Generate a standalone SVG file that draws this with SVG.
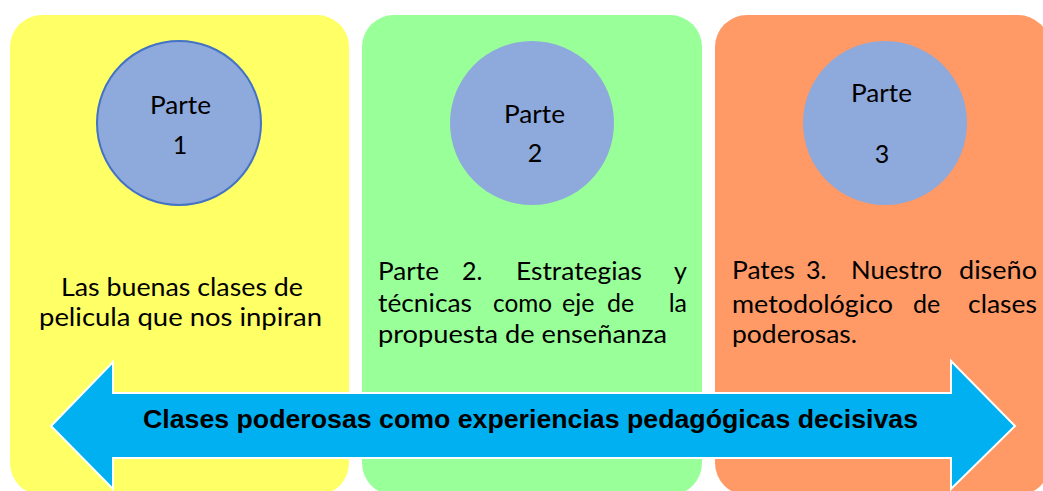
<svg xmlns="http://www.w3.org/2000/svg" width="1043" height="491" viewBox="0 0 1043 491">
<style>
.box{stroke:none}
.circ{fill:#8EA9DB}
.t{font-family:Lato,"Open Sans","Liberation Sans",sans-serif;font-size:25px;fill:#000}
.c{text-anchor:middle}
.e{text-anchor:end}
.arrowtxt{font-family:"Liberation Sans",Arial,sans-serif;font-weight:bold;font-size:26.5px;fill:#000}
</style>
<rect width="1043" height="491" fill="#FFFFFF"/>
<g id="node-parte1">
<rect class="box" x="10" y="15" width="339" height="480" rx="32" ry="32" fill="#FFFF66"/>
<circle class="circ" cx="179" cy="123" r="82" stroke="#4472C4" stroke-width="2"/>
<text class="t" x="150" y="114" textLength="61" lengthAdjust="spacingAndGlyphs">Parte</text>
<text class="t c" x="180" y="154">1</text>
<text class="t" x="61" y="296" textLength="242" lengthAdjust="spacingAndGlyphs">Las buenas clases de</text>
<text class="t" x="39" y="326" textLength="283" lengthAdjust="spacingAndGlyphs">pelicula que nos inpiran</text>
</g>
<g id="node-parte2">
<rect class="box" x="362" y="15" width="340" height="480" rx="32" ry="32" fill="#99FF99"/>
<circle class="circ" cx="532" cy="123" r="82"/>
<text class="t" x="504" y="123" textLength="61" lengthAdjust="spacingAndGlyphs">Parte</text>
<text class="t c" x="535" y="162">2</text>
<text class="t" x="378" y="280" textLength="61" lengthAdjust="spacingAndGlyphs">Parte</text>
<text class="t" x="462" y="280">2.</text>
<text class="t" x="516" y="280" textLength="126" lengthAdjust="spacingAndGlyphs">Estrategias</text>
<text class="t e" x="687" y="280">y</text>
<text class="t" x="378" y="312" textLength="94" lengthAdjust="spacingAndGlyphs">técnicas</text>
<text class="t" x="493" y="312" textLength="59" lengthAdjust="spacingAndGlyphs">como</text>
<text class="t" x="562" y="312">eje</text>
<text class="t" x="607" y="312">de</text>
<text class="t e" x="687" y="312">la</text>
<text class="t" x="378" y="343" textLength="289" lengthAdjust="spacingAndGlyphs">propuesta de enseñanza</text>
</g>
<g id="node-parte3">
<rect class="box" x="715" y="15" width="335" height="480" rx="32" ry="32" fill="#FF9966"/>
<circle class="circ" cx="885" cy="123" r="82"/>
<text class="t" x="851" y="102" textLength="61" lengthAdjust="spacingAndGlyphs">Parte</text>
<text class="t c" x="882" y="163">3</text>
<text class="t" x="732" y="279" textLength="63" lengthAdjust="spacingAndGlyphs">Pates</text>
<text class="t" x="806" y="279">3.</text>
<text class="t" x="851" y="279" textLength="91" lengthAdjust="spacingAndGlyphs">Nuestro</text>
<text class="t" x="959" y="279" textLength="78" lengthAdjust="spacingAndGlyphs">diseño</text>
<text class="t" x="732" y="313" textLength="161" lengthAdjust="spacingAndGlyphs">metodológico</text>
<text class="t" x="913" y="313">de</text>
<text class="t" x="968" y="313" textLength="69" lengthAdjust="spacingAndGlyphs">clases</text>
<text class="t" x="732" y="343" textLength="125" lengthAdjust="spacingAndGlyphs">poderosas.</text>
</g>
<g id="connectors">
<g id="node-arrow">
<path d="M51,426 L113,362 L113,393 L951,393 L951,361 L1015,426 L951,489 L951,458 L113,458 L113,489 Z" fill="#00B0F0" stroke="#FFFFFF" stroke-width="2" stroke-linejoin="miter"/>
<text class="arrowtxt" x="143" y="428" textLength="775" lengthAdjust="spacingAndGlyphs">Clases poderosas como experiencias pedagógicas decisivas</text>
</g>
</g>
</svg>
